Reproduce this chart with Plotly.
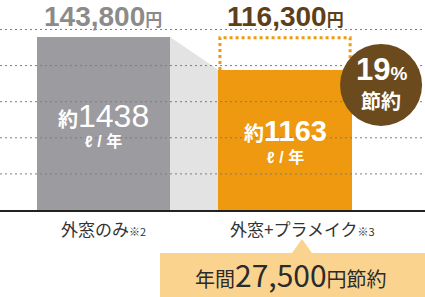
import plotly.graph_objects as go

# ---- data ----
categories = ["外窓のみ", "外窓+プラメイク"]
notes = ["※2", "※3"]
liters = [1438, 1163]
costs = ["143,800", "116,300"]
gridvals = [300, 600, 900, 1200, 1500]
saving_pct = "19"
saving_yen = "27,500"

# ---- style ----
W, H = 425, 297
PLOT_H = 210
Y_TOP = 1745
bar_w = 0.733
xpos = [0, 1]
bar_colors = ["#9c9ba0", "#ee990f"]
orange = "#ee990f"
brown = "#6b4a1e"
jp = "Noto Sans CJK JP"
num = "Liberation Sans, Noto Sans CJK JP"

fig = go.Figure()
fig.add_trace(go.Bar(
    x=xpos, y=liters, width=bar_w,
    marker=dict(color=bar_colors, line=dict(width=0)),
    hoverinfo="skip", showlegend=False,
))

x0r = xpos[0] + bar_w / 2
x1l = xpos[1] - bar_w / 2
x1r = xpos[1] + bar_w / 2

# shadow between the bars
fig.add_shape(type="path", xref="x", yref="y",
              path=f"M {x0r},{liters[0]} L {x1l},{liters[1]} L {x1l},0 L {x0r},0 Z",
              fillcolor="#e3e3e3", line=dict(width=0), layer="below")

# gridlines (dotted, above bars)
for g in gridvals:
    fig.add_shape(type="line", xref="paper", x0=0, x1=1, yref="y", y0=g, y1=g,
                  line=dict(color="#7d7d7d", width=1, dash="2px,3px"), layer="above")

# dotted outline of the saved part
fig.add_shape(type="path", xref="x", yref="y",
              path=f"M {x1l + 0.008},{liters[1]} L {x1l + 0.008},{liters[0] - 6} "
                   f"L {x1r - 0.008},{liters[0] - 6} L {x1r - 0.008},{liters[1]}",
              line=dict(color=orange, width=3, dash="3px,3px"), layer="above")

# saving circle
cx, cy = 1.529, 1039
fig.add_shape(type="circle", xref="x", yref="y", xsizemode="pixel", ysizemode="pixel",
              xanchor=cx, yanchor=cy, x0=-41, x1=41, y0=-41, y1=41,
              fillcolor=brown, line=dict(width=0), layer="above")
fig.add_annotation(x=cx, y=cy, xref="x", yref="y", yshift=15, showarrow=False,
                   text=f"<b>{saving_pct}<span style='font-size:19px'>%</span></b>",
                   font=dict(family=num, size=31, color="white"))
fig.add_annotation(x=cx, y=cy, xref="x", yref="y", yshift=-16, showarrow=False,
                   text="<b>節約</b>", font=dict(family=jp, size=20, color="white"))

# cost labels above bars
cost_colors = ["#8b8b8b", "#5e3f17"]
for i in range(2):
    fig.add_annotation(x=xpos[i], y=max(liters), xref="x", yref="y", yshift=20,
                       showarrow=False,
                       text=f"<b>{costs[i]}<span style='font-size:17px'>円</span></b>",
                       font=dict(family=num, size=28, color=cost_colors[i]))

# values inside bars
val_shift = [-79, -61]
unit_shift = [-104, -87]
val_size = [32, 29]
for i in range(2):
    fig.add_annotation(x=xpos[i], y=liters[i], xref="x", yref="y", yshift=val_shift[i],
                       showarrow=False,
                       text=f"<span style='font-size:20px'><b>約</b></span>{liters[i]}" if i == 0
                       else f"<b><span style='font-size:20px'>約</span>{liters[i]}</b>",
                       font=dict(family=num, size=val_size[i], color="white"))
    fig.add_annotation(x=xpos[i], y=liters[i], xref="x", yref="y", yshift=unit_shift[i],
                       showarrow=False, text="<b>ℓ / 年</b>",
                       font=dict(family=num, size=16, color="white"))

# category labels under the axis
label_xshift = [0, 17]
for i in range(2):
    fig.add_annotation(x=xpos[i], y=0, xref="x", yref="paper", yanchor="middle",
                       yshift=-18, xshift=label_xshift[i], showarrow=False,
                       text=f"{categories[i]}<span style='font-size:11px'>{notes[i]}</span>",
                       font=dict(family=jp, size=17, color="#333"))

# callout box below
def px(x):
    return x / W

def py(y):
    return (PLOT_H - y) / PLOT_H

box = (f"M {px(160)},{py(253)} L {px(292)},{py(253)} L {px(302)},{py(239)} "
       f"L {px(312)},{py(253)} L {px(430)},{py(253)} L {px(430)},{py(300)} "
       f"L {px(160)},{py(300)} Z")
fig.add_shape(type="path", xref="paper", yref="paper", path=box,
              fillcolor="#fad48e", line=dict(width=0), layer="above")
fig.add_annotation(x=px(291), y=py(274), xref="paper", yref="paper", showarrow=False,
                   xanchor="center", yanchor="middle", borderpad=0,
                   text=f"<span style='font-size:20px'>年間</span>{saving_yen}"
                        f"<span style='font-size:20px'>円節約</span>",
                   font=dict(family=jp, size=30, color="#2b2b2b"))

fig.update_layout(
    width=W, height=H,
    margin=dict(l=0, r=0, t=0, b=H - PLOT_H, pad=0),
    paper_bgcolor="white", plot_bgcolor="white",
    showlegend=False,
    xaxis=dict(range=[-0.570, 1.771], tickvals=xpos, showticklabels=False,
               showgrid=False, zeroline=False, showline=True, linecolor="#222",
               linewidth=2, ticks="", fixedrange=True),
    yaxis=dict(range=[0, Y_TOP], showgrid=False, zeroline=False, showticklabels=False,
               fixedrange=True),
    bargap=0,
)

fig.write_html("out.html", config={"displayModeBar": False})
